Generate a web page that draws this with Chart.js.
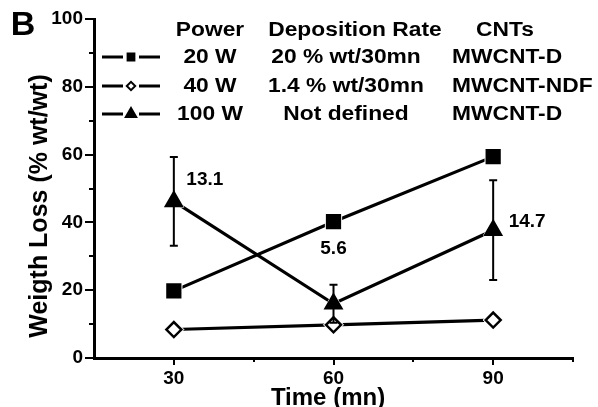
<!DOCTYPE html>
<html>
<head>
<meta charset="utf-8">
<script src="https://cdn.jsdelivr.net/npm/chart.js@4/dist/chart.umd.min.js"></script>
<style>
  html, body { margin: 0; padding: 0; background: #fff; }
  #wrap { width: 598px; height: 407px; position: relative; }
</style>
</head>
<body>
<div id="wrap"><canvas id="c" width="598" height="407"></canvas></div>
<script>
// Weight loss vs. plasma treatment time for three deposition powers
const times = [30, 60, 90];
const powers = ['20 W', '40 W', '100 W'];
const rates = ['20 % wt/30mn', '1.4 % wt/30mn', 'Not defined'];
const cnts = ['MWCNT-D', 'MWCNT-NDF', 'MWCNT-D'];
const loss20W = [19.8, 40.2, 59.4];
const loss40W = [8.4, 9.8, 11.2];
const loss100W = [46.2, 16.0, 37.7];
const err100W = [13.1, 5.6, 14.7];
const xTickLabels = [30, 60, 90];
const yTickLabels = [0, 20, 40, 60, 80, 100];

const FONT = "'Liberation Sans', Arial, Helvetica, sans-serif";
const series = [loss20W, loss40W, loss100W];
const pointStyles = ['rect', 'rectRot', 'triangle'];
const pointRadii = [9, 7.5, 9];
const pointFills = ['#000', '#fff', '#000'];
const markerOrder = [3, 2, 1];          // triangles end up on top
const legendRadii = [4.8, 4.2, 6];
const TEXT_STRETCH = 1.14;   // legend lettering is set a little wide

// where each error-value label sits relative to its point (px)
const errLabelOffsets = [[31, -22], [0, -36], [34, -8]];

const legendLayout = {
  headerY: 30, rowY: [57, 86, 114],
  symX0: 102, symX1: 160,
  powerX: 210, rateX: 346, rateHeaderX: 355, cntX: 452, cntHeaderX: 505
};

const toPoints = vals => times.map((t, k) => ({ x: t, y: vals[k] }));

// connecting lines, drawn first
const lineSets = series.map((vals, i) => ({
  label: powers[i],
  data: toPoints(vals),
  showLine: true, borderColor: '#000', borderWidth: 3.2, pointRadius: 0,
  fill: false, tension: 0, order: 5
}));
// white collars that open a small gap where lines meet a marker
const haloSets = series.map((vals, i) => ({
  label: powers[i] + ' gap',
  data: toPoints(vals),
  showLine: false, pointStyle: pointStyles[i], pointRadius: pointRadii[i] + 2.5,
  pointBackgroundColor: '#fff', pointBorderColor: '#fff', pointBorderWidth: 1, order: 4
}));
// the markers themselves
const markerSets = series.map((vals, i) => ({
  label: powers[i] + ' markers',
  data: toPoints(vals),
  showLine: false, pointStyle: pointStyles[i], pointRadius: pointRadii[i],
  pointBackgroundColor: pointFills[i], pointBorderColor: '#000', pointBorderWidth: 2.5,
  order: markerOrder[i]
}));
const datasets = [...lineSets, ...haloSets, ...markerSets];
// error bars go above the open diamonds but below the triangles
const ERRBAR_AFTER = lineSets.length + haloSets.length + 1;

function stretchedText(ctx, text, x, y, align) {
  ctx.save();
  ctx.translate(x, y);
  ctx.scale(TEXT_STRETCH, 1);
  ctx.textAlign = align;
  ctx.fillText(text, 0, 0);
  ctx.restore();
}

const decorations = {
  id: 'decorations',
  afterDatasetDraw(chart, args) {
    if (args.index !== ERRBAR_AFTER) return;
    // error bars of the 100 W series
    const { ctx, scales: { x, y } } = chart;
    ctx.save();
    ctx.strokeStyle = '#000';
    ctx.lineWidth = 2;
    times.forEach((t, k) => {
      const px = x.getPixelForValue(t);
      const top = y.getPixelForValue(loss100W[k] + err100W[k]);
      const bot = y.getPixelForValue(loss100W[k] - err100W[k]);
      ctx.beginPath();
      ctx.moveTo(px, top); ctx.lineTo(px, bot);
      ctx.moveTo(px - 4, top); ctx.lineTo(px + 4, top);
      ctx.moveTo(px - 4, bot); ctx.lineTo(px + 4, bot);
      ctx.stroke();
    });
    ctx.restore();
  },
  afterDraw(chart) {
    const { ctx, scales: { x, y } } = chart;
    ctx.save();
    ctx.fillStyle = '#000';
    ctx.strokeStyle = '#000';

    // short minor ticks
    ctx.lineWidth = 2;
    ctx.beginPath();
    for (let v = 10; v < 100; v += 20) {
      const py = Math.round(y.getPixelForValue(v));
      ctx.moveTo(x.left - 5, py); ctx.lineTo(x.left, py);
    }
    [45, 75, 105].forEach(v => {
      const px = Math.round(x.getPixelForValue(v));
      ctx.moveTo(px, y.bottom); ctx.lineTo(px, y.bottom + 4);
    });
    ctx.stroke();

    // error values
    ctx.font = `bold 19px ${FONT}`;
    ctx.textAlign = 'center';
    ctx.textBaseline = 'middle';
    times.forEach((t, k) => {
      const px = x.getPixelForValue(t);
      const py = y.getPixelForValue(k === 1 ? loss100W[k] + err100W[k] : loss100W[k]);
      ctx.fillText(err100W[k].toFixed(1), px + errLabelOffsets[k][0], py + errLabelOffsets[k][1]);
    });

    // legend table
    const L = legendLayout;
    ctx.font = `bold 20px ${FONT}`;
    stretchedText(ctx, 'Power', L.powerX, L.headerY, 'center');
    stretchedText(ctx, 'Deposition Rate', L.rateHeaderX, L.headerY, 'center');
    stretchedText(ctx, 'CNTs', L.cntHeaderX, L.headerY, 'center');
    series.forEach((_, i) => {
      const ry = L.rowY[i];
      const mx = (L.symX0 + L.symX1) / 2;
      ctx.lineWidth = 3;
      ctx.beginPath();
      ctx.moveTo(L.symX0, ry); ctx.lineTo(mx - 8, ry);
      ctx.moveTo(mx + 8, ry); ctx.lineTo(L.symX1, ry);
      ctx.stroke();
      ctx.lineWidth = 2;
      ctx.fillStyle = pointFills[i];
      Chart.helpers.drawPoint(ctx, { pointStyle: pointStyles[i], radius: legendRadii[i], borderWidth: 2 }, mx, ry);
      ctx.fillStyle = '#000';
      stretchedText(ctx, powers[i], L.powerX, ry, 'center');
      stretchedText(ctx, rates[i], L.rateX, ry, 'center');
      stretchedText(ctx, cnts[i], L.cntX, ry, 'left');
    });

    // axis titles and panel letter
    ctx.textAlign = 'center';
    ctx.font = `bold 24px ${FONT}`;
    ctx.fillText('Time (mn)', 328, 398);
    ctx.save();
    ctx.translate(40, 206);
    ctx.rotate(-Math.PI / 2);
    ctx.font = `bold 25px ${FONT}`;
    ctx.fillText('Weigth Loss (% wt/wt)', 0, 0);
    ctx.restore();
    ctx.font = `bold 34px ${FONT}`;
    ctx.fillText('B', 23, 26);
    ctx.restore();
  }
};

new Chart(document.getElementById('c'), {
  type: 'scatter',
  data: { datasets },
  options: {
    responsive: false,
    animation: false,
    devicePixelRatio: 1,
    layout: { padding: { left: 0, top: 19, right: 25, bottom: 0 } },
    plugins: { legend: { display: false }, tooltip: { enabled: false } },
    scales: {
      x: {
        type: 'linear', min: 15, max: 105,
        afterFit(s) { s.height = 49; },
        afterBuildTicks(s) { s.ticks = xTickLabels.map(v => ({ value: v })); },
        ticks: { color: '#000', font: { family: FONT, weight: 'bold', size: 19 }, padding: 2,
                 callback: v => String(v) },
        grid: { display: true, drawOnChartArea: false, drawTicks: true, tickLength: 7, color: '#000', lineWidth: 2 },
        border: { display: true, color: '#000', width: 3 }
      },
      y: {
        min: 0, max: 100,
        afterFit(s) { s.width = 94; },
        afterBuildTicks(s) { s.ticks = yTickLabels.map(v => ({ value: v })); },
        ticks: { color: '#000', font: { family: FONT, weight: 'bold', size: 19 }, padding: 2,
                 callback: v => String(v) },
        grid: { display: true, drawOnChartArea: false, drawTicks: true, tickLength: 9, color: '#000', lineWidth: 2 },
        border: { display: true, color: '#000', width: 3 }
      }
    }
  },
  plugins: [decorations]
});
</script>
</body>
</html>
